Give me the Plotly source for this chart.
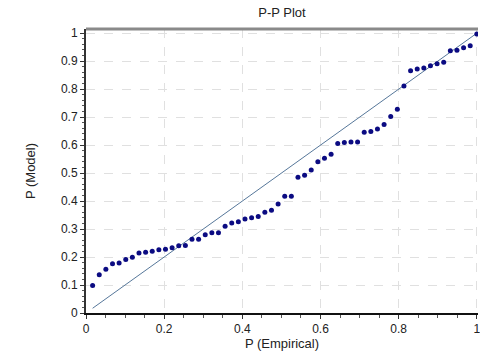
import plotly.graph_objects as go

n_points = 59
p_empirical = [i / n_points for i in range(1, n_points + 1)]
p_model = [
    0.098, 0.137, 0.156, 0.176, 0.179, 0.191, 0.199, 0.214, 0.217, 0.221,
    0.226, 0.228, 0.233, 0.240, 0.241, 0.264, 0.264, 0.280, 0.287, 0.287,
    0.310, 0.322, 0.326, 0.336, 0.340, 0.345, 0.360, 0.367, 0.390, 0.417,
    0.417, 0.485, 0.492, 0.511, 0.541, 0.553, 0.567, 0.606, 0.609, 0.611,
    0.611, 0.646, 0.649, 0.658, 0.674, 0.702, 0.728, 0.811, 0.866, 0.872,
    0.876, 0.884, 0.891, 0.896, 0.937, 0.939, 0.948, 0.955, 0.997,
]
ref_line = [p_empirical[0], 1.0]

fig = go.Figure()
fig.add_trace(go.Scatter(x=ref_line, y=ref_line, mode="lines",
                         line=dict(color="#56779a", width=1), hoverinfo="skip"))
fig.add_trace(go.Scatter(x=p_empirical, y=p_model, mode="markers",
                         marker=dict(color="#0b0b82", size=5, symbol="circle")))

font = dict(family="Liberation Sans, Arial, sans-serif", size=12, color="#222")
fig.update_layout(
    width=480, height=351,
    margin=dict(l=86, r=0, t=29, b=38),
    paper_bgcolor="white", plot_bgcolor="white",
    showlegend=False,
    font=font,
    title=dict(text="P-P Plot", x=0.5, xref="paper", xanchor="center",
               y=0.965, yanchor="middle", font=dict(size=13, color="#222")),
    xaxis=dict(range=[0, 1.003], tickvals=[0, 0.2, 0.4, 0.6, 0.8, 1],
               ticktext=["0", "0.2", "0.4", "0.6", "0.8", "1"],
               ticks="outside", ticklen=4, tickcolor="#333",
               ticklabeloverflow="allow",
               showline=True, linecolor="#111", linewidth=2,
               showgrid=True, gridcolor="#e0e0e0", griddash="dash", gridwidth=1,
               zeroline=False,
               minor=dict(dtick=0.05, ticks="outside", ticklen=3, tickcolor="#555", showgrid=False),
               title=dict(text="P (Empirical)", standoff=4, font=dict(size=13)),
               tickfont=dict(size=12)),
    yaxis=dict(range=[0, 1.015], tickvals=[i / 10 for i in range(11)],
               ticktext=["0", "0.1", "0.2", "0.3", "0.4", "0.5", "0.6", "0.7", "0.8", "0.9", "1"],
               ticks="outside", ticklen=4, tickcolor="#333",
               showline=True, linecolor="#333", linewidth=2,
               showgrid=True, gridcolor="#e0e0e0", griddash="dash", gridwidth=1,
               zeroline=False,
               minor=dict(dtick=0.02, ticks="outside", ticklen=2, tickcolor="#555", showgrid=False),
               title=dict(text="P (Model)", standoff=22, font=dict(size=13)),
               tickfont=dict(size=12)),
    shapes=[dict(type="line", xref="paper", yref="paper", x0=0, x1=1, y0=1, y1=1,
                 line=dict(color="#8a8a8a", width=3))],
)

fig.write_html("out.html", config={"displayModeBar": False},
               post_script="document.body.style.margin='0';document.body.style.overflow='hidden';")
